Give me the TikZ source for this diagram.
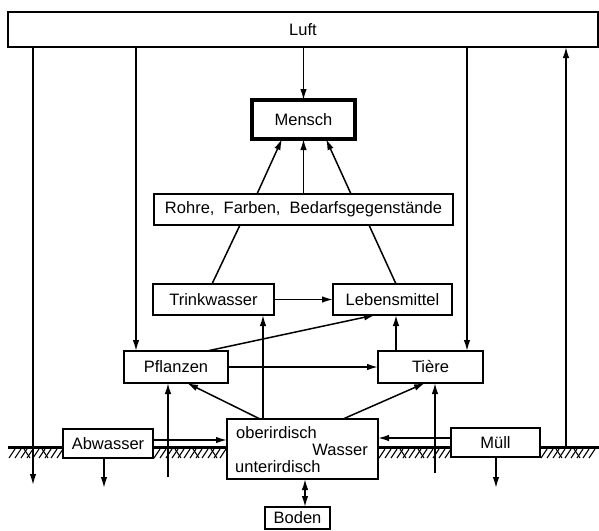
\documentclass[tikz,border=0pt]{standalone}
\usepackage{fontspec}
\setmainfont{Liberation Sans}
\usetikzlibrary{arrows.meta}

\begin{document}
\begin{tikzpicture}[
  x=1pt,
  y=-1pt,
  >=Latex,
  box/.style={draw, line width=1.8pt, inner sep=0pt, outer sep=0pt,
    minimum height=31pt, font=\fontsize{16.5}{18}\selectfont},
  main/.style={box, line width=3.6pt},
  lbl/.style={inner sep=0pt, font=\fontsize{16.5}{18}\selectfont},
  flow/.style={-{Latex[length=11pt, width=6.5pt]}, line width=1.5pt},
  both/.style={{Latex[length=11pt, width=6.5pt]}-{Latex[length=11pt, width=6.5pt]}, line width=1.5pt},
  link/.style={line width=1.5pt},
  ground/.style={line width=3pt},
  hatch/.style={line width=1.1pt}
]
\useasboundingbox (0,0) rectangle (599,530);
\node[box, minimum width=590pt, minimum height=35pt] (luft) at (303,29.5) {Luft};
\node[main, minimum width=103pt, minimum height=39pt] (mensch) at (303.5,119.5) {Mensch};
\node[box, minimum width=299pt] (rohre) at (303.5,209.5) {Rohre,\ \ Farben,\ \ Bedarfsgegenstände};
\node[box, minimum width=121pt] (trink) at (213.5,299.5) {Trinkwasser};
\node[box, minimum width=119pt] (leben) at (392.5,299.5) {Lebensmittel};
\node[box, minimum width=104pt, minimum height=32pt] (pflanzen) at (176,367) {Pflanzen};
\node[box, minimum width=105pt, minimum height=32pt] (tiere) at (430.5,367) {Tière};
\node[box, minimum width=90pt, minimum height=29pt] (abwasser) at (108,443.5) {Abwasser};
\node[box, minimum width=151pt, minimum height=60pt] (wasser) at (302.5,449) {};
\node[box, minimum width=89pt, minimum height=29pt] (muell) at (495.5,442.5) {Müll};
\node[box, minimum width=65pt, minimum height=22pt] (boden) at (297.5,518) {Boden};
\node[lbl, anchor=west] (wober) at (236,433) {oberirdisch};
\node[lbl, anchor=east] (wname) at (368,450) {Wasser};
\node[lbl, anchor=west] (wunter) at (235,467) {unterirdisch};
\coordinate (g0) at (8,447);
\coordinate (gl) at (33,485);
\coordinate (gr) at (566,447);
\coordinate (gp) at (168,477);
\coordinate (gt) at (435,473);
\coordinate (ad) at (104,488);
\coordinate (md) at (496,488);
\coordinate (pf) at ([xshift=12]pflanzen.north west);
\coordinate (tf) at ([xshift=-16]tiere.north east);
\coordinate (lt) at ([xshift=63]leben.south west);
\coordinate (tw) at ([xshift=-11]trink.south east);
\draw[flow] (luft.south -| gl) -- (gl);
\draw[flow] (luft.south -| pf) -- (pf);
\draw[flow] (mensch.north |- luft.south) -- (mensch.north);
\draw[flow] (luft.south -| tf) -- (tf);
\draw[flow] (gr) -- (gr |- luft.south);
\draw[flow] ([xshift=103]rohre.north west) -- ([xshift=30]mensch.south west);
\draw[flow] (rohre.north) -- (mensch.south);
\draw[flow] ([xshift=-102]rohre.north east) -- ([xshift=-29]mensch.south east);
\draw[link] ([xshift=59]trink.north west) -- ([xshift=86]rohre.south west);
\draw[link] ([xshift=63]leben.north west) -- ([xshift=-84]rohre.south east);
\draw[flow] (trink.east) -- (leben.west);
\draw[flow] ([xshift=-21]pflanzen.north east) -- ([xshift=42]leben.south west);
\draw[flow] (pflanzen.east) -- (pflanzen.east -| tiere.west);
\draw[flow] (tiere.north -| lt) -- (lt);
\draw[flow] (wasser.north -| tw) -- (tw);
\draw[flow] ([xshift=33]wasser.north west) -- ([xshift=63]pflanzen.south west);
\draw[flow] ([xshift=-35]wasser.north east) -- ([xshift=47]tiere.south west);
\draw[flow] (gp) -- (gp |- pflanzen.south);
\draw[flow] (gt) -- (gt |- tiere.south);
\draw[flow] ([yshift=3.5]abwasser.east) -- ([yshift=3.5]abwasser.east -| wasser.west);
\draw[flow] ([yshift=4.5]muell.west) -- ([yshift=4.5]muell.west -| wasser.east);
\draw[flow] (abwasser.south -| ad) -- (ad);
\draw[flow] (muell.south -| md) -- (md);
\draw[both] ([xshift=2.5]wasser.south) -- ([xshift=2.5]wasser.south |- boden.north);
\draw[ground] (g0) -- (g0 -| abwasser.west);
\draw[ground] (g0 -| abwasser.east) -- (g0 -| wasser.west);
\draw[ground] (g0 -| wasser.east) -- (g0 -| muell.west);
\draw[ground] (g0 -| muell.east) -- (599,447);
\foreach \x in {15,21,...,63} \draw[hatch] (\x,449) -- ++(-6,9);
\foreach \x in {160,166,...,227} \draw[hatch] (\x,449) -- ++(-6,9);
\foreach \x in {385,391,...,451} \draw[hatch] (\x,449) -- ++(-6,9);
\foreach \x in {547,553,...,599} \draw[hatch] (\x,449) -- ++(-6,9);
\foreach \x in {24,42} \draw[hatch] (\x,449) -- ++(6,9);
\foreach \x in {175,193,211} \draw[hatch] (\x,449) -- ++(6,9);
\foreach \x in {400,418} \draw[hatch] (\x,449) -- ++(6,9);
\foreach \x in {556,574} \draw[hatch] (\x,449) -- ++(6,9);
\end{tikzpicture}
\end{document}
